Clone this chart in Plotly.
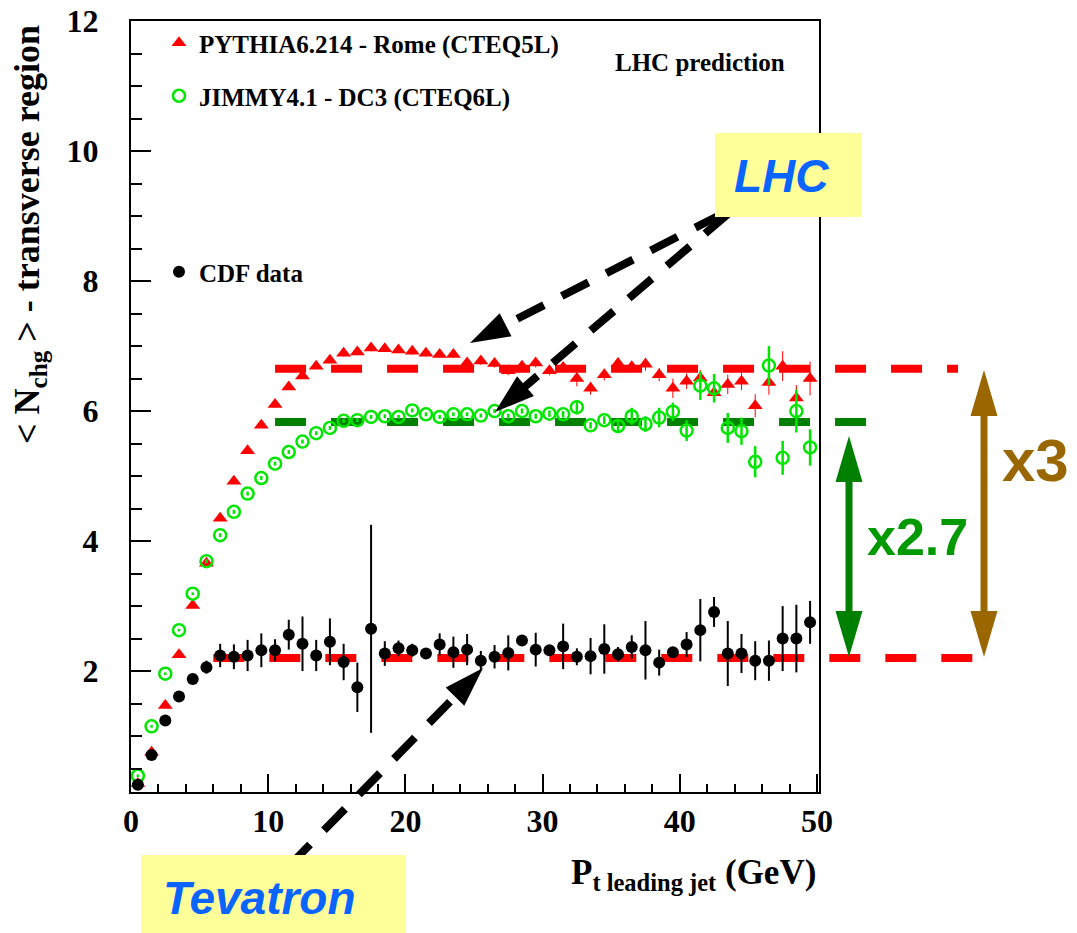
import math
import plotly.graph_objects as go

# ---------------- data ----------------
pt_bins = [0.5, 1.5, 2.5, 3.5, 4.5, 5.5, 6.5, 7.5, 8.5, 9.5,
           10.5, 11.5, 12.5, 13.5, 14.5, 15.5, 16.5, 17.5, 18.5, 19.5,
           20.5, 21.5, 22.5, 23.5, 24.5, 25.5, 26.5, 27.5, 28.5, 29.5,
           30.5, 31.5, 32.5, 33.5, 34.5, 35.5, 36.5, 37.5, 38.5, 39.5,
           40.5, 41.5, 42.5, 43.5, 44.5, 45.5, 46.5, 47.5, 48.5, 49.5]

pythia_y = [0.27, 0.75, 1.47, 2.25, 3.01, 3.66, 4.35, 4.92, 5.39, 5.78,
            6.10, 6.37, 6.54, 6.69, 6.78, 6.89, 6.91, 6.97, 6.96, 6.94,
            6.92, 6.89, 6.87, 6.87, 6.74, 6.77, 6.73, 6.62, 6.69, 6.74,
            6.62, 6.67, 6.50, 6.35, 6.56, 6.73, 6.68, 6.72, 6.56, 6.35,
            6.46, 6.51, 6.28, 6.41, 6.46, 6.08, 6.44, 6.69, 6.20, 6.50]
pythia_err = [0.02, 0.02, 0.02, 0.03, 0.03, 0.03, 0.03, 0.03, 0.03, 0.03,
              0.04, 0.04, 0.04, 0.04, 0.04, 0.05, 0.05, 0.05, 0.05, 0.05,
              0.05, 0.05, 0.05, 0.05, 0.06, 0.06, 0.06, 0.07, 0.07, 0.07,
              0.07, 0.08, 0.12, 0.10, 0.09, 0.09, 0.09, 0.10, 0.10, 0.15,
              0.12, 0.12, 0.13, 0.15, 0.14, 0.18, 0.19, 0.23, 0.20, 0.26]

jimmy_y = [0.39, 1.15, 1.96, 2.63, 3.19, 3.69, 4.09, 4.45, 4.73, 4.97,
           5.19, 5.37, 5.53, 5.66, 5.74, 5.85, 5.86, 5.91, 5.92, 5.91,
           6.01, 5.95, 5.91, 5.95, 5.95, 5.93, 6.00, 5.92, 6.00, 5.92,
           5.96, 5.95, 6.06, 5.78, 5.86, 5.77, 5.92, 5.80, 5.90, 5.99,
           5.70, 6.39, 6.35, 5.74, 5.69, 5.22, 6.70, 5.28, 6.00, 5.44]
jimmy_err = [0.02, 0.02, 0.02, 0.02, 0.02, 0.03, 0.03, 0.03, 0.03, 0.03,
             0.03, 0.03, 0.03, 0.03, 0.03, 0.03, 0.03, 0.03, 0.03, 0.03,
             0.03, 0.03, 0.03, 0.03, 0.03, 0.03, 0.03, 0.04, 0.04, 0.04,
             0.05, 0.05, 0.11, 0.05, 0.06, 0.10, 0.13, 0.12, 0.15, 0.14,
             0.16, 0.22, 0.22, 0.23, 0.21, 0.24, 0.30, 0.26, 0.33, 0.28]

cdf_y = [0.25, 0.71, 1.24, 1.61, 1.88, 2.06, 2.24, 2.22, 2.24, 2.32,
         2.32, 2.56, 2.42, 2.24, 2.45, 2.14, 1.75, 2.65, 2.27, 2.35,
         2.32, 2.27, 2.41, 2.29, 2.33, 2.16, 2.22, 2.28, 2.47, 2.33,
         2.32, 2.38, 2.22, 2.23, 2.34, 2.26, 2.37, 2.32, 2.13, 2.29,
         2.41, 2.63, 2.91, 2.27, 2.27, 2.16, 2.16, 2.50, 2.50, 2.75]
cdf_err = [0.02, 0.03, 0.04, 0.05, 0.06, 0.10, 0.18, 0.19, 0.24, 0.26,
           0.17, 0.23, 0.42, 0.24, 0.36, 0.28, 0.38, 1.60, 0.19, 0.12,
           0.10, 0.08, 0.17, 0.24, 0.24, 0.15, 0.18, 0.27, 0.08, 0.26,
           0.08, 0.35, 0.13, 0.28, 0.38, 0.11, 0.18, 0.45, 0.20, 0.08,
           0.19, 0.48, 0.23, 0.50, 0.30, 0.30, 0.31, 0.50, 0.52, 0.33]

# plateau levels (y) and where their dashed lines start (x, GeV)
levels = [6.65, 5.83, 2.20]
level_start = [10.5, 10.5, 6.0]

x_ticks = [0, 10, 20, 30, 40, 50]
y_ticks = [2, 4, 6, 8, 10, 12]

series_names = ["PYTHIA6.214 - Rome (CTEQ5L)", "JIMMY4.1 - DC3 (CTEQ6L)", "CDF data"]

# ---------------- layout geometry (reference pixel frame) ----------------
FW, FH = 1077, 933
OFF = 8                      # default page body margin
L, R, T, B = 131, 819, 21, 792
PW, PH = R - L, B - T
XR = [0, 50.15]
YR = [0.14, 12]

def px_x(px):
    return (px - L) / PW

def px_y(py):
    return (B - py) / PH

def dx(v):
    return (v - XR[0]) / (XR[1] - XR[0])

def dy(v):
    return (v - YR[0]) / (YR[1] - YR[0])

serif = "Liberation Serif"
sans = "Liberation Sans"

RED = "#ff0000"
GREEN_PT = "rgb(0,230,0)"
DKGREEN = "#008000"
BROWN = "#996600"
BLUE = "#0a64ff"
YELLOW = "#ffff99"

fig = go.Figure()

fig.add_trace(go.Scatter(
    x=pt_bins, y=pythia_y, mode="markers", name=series_names[0],
    marker=dict(symbol="triangle-up", size=13, color=RED),
    error_y=dict(type="data", array=pythia_err, color=RED, thickness=1, width=0),
    legend="legend"))
fig.add_trace(go.Scatter(
    x=pt_bins, y=jimmy_y, mode="markers", name=series_names[1],
    marker=dict(symbol="circle-open", size=12, color=GREEN_PT, line=dict(width=2.5, color=GREEN_PT)),
    error_y=dict(type="data", array=jimmy_err, color=GREEN_PT, thickness=2.5, width=0),
    legend="legend2"))
fig.add_trace(go.Scatter(
    x=pt_bins, y=cdf_y, mode="markers", name=series_names[2],
    marker=dict(symbol="circle", size=12, color="black"),
    error_y=dict(type="data", array=cdf_err, color="black", thickness=2, width=0),
    legend="legend3"))

shapes = []
# plateau dashed lines (extend outside the frame)
level_colors = [RED, DKGREEN, RED]
level_end_px = [958, 867, 974]
for lv, xs, col, xe in zip(levels, level_start, level_colors, level_end_px):
    shapes.append(dict(type="line", xref="paper", yref="paper",
                       x0=dx(xs), x1=px_x(xe), y0=dy(lv), y1=dy(lv),
                       line=dict(color=col, width=8, dash="31px,25px"), layer="below"))

def head(tipx, tipy, fromx, fromy, length, width, color):
    vx, vy = tipx - fromx, tipy - fromy
    n = math.hypot(vx, vy)
    ux, uy = vx / n, vy / n
    bx, by = tipx - ux * length, tipy - uy * length
    nx, ny = -uy, ux
    p1 = (bx + nx * width / 2, by + ny * width / 2)
    p2 = (bx - nx * width / 2, by - ny * width / 2)
    path = "M {} {} L {} {} L {} {} Z".format(
        px_x(tipx), px_y(tipy), px_x(p1[0]), px_y(p1[1]), px_x(p2[0]), px_y(p2[1]))
    return dict(type="path", xref="paper", yref="paper", path=path,
                fillcolor=color, line=dict(width=0), layer="above"), (bx, by)

# black dashed arrows (start px, tip px)
arrows = [((722, 214), (470, 343)), ((728, 214), (495, 412)), ((289, 866), (483, 668))]
for (sx, sy), (tx, ty) in arrows:
    h, (bx, by) = head(tx, ty, sx, sy, 40, 26, "black")
    shapes.append(dict(type="line", xref="paper", yref="paper",
                       x0=px_x(sx), y0=px_y(sy), x1=px_x(bx + (tx - bx) * 0.1), y1=px_y(by + (ty - by) * 0.1),
                       line=dict(color="black", width=8, dash="30px,20px"), layer="above"))
    shapes.append(h)

# double headed arrows
for xpx, ytop, ybot, col in [(849, 436, 657, DKGREEN), (984, 370, 657, BROWN)]:
    shapes.append(dict(type="line", xref="paper", yref="paper",
                       x0=px_x(xpx), x1=px_x(xpx), y0=px_y(ytop + 40), y1=px_y(ybot - 40),
                       line=dict(color=col, width=7), layer="above"))
    shapes.append(head(xpx, ytop, xpx, ybot, 46, 27, col)[0])
    shapes.append(head(xpx, ybot, xpx, ytop, 46, 27, col)[0])

# yellow label boxes
shapes.append(dict(type="rect", xref="paper", yref="paper",
                   x0=px_x(715), x1=px_x(862), y0=px_y(133), y1=px_y(217),
                   fillcolor=YELLOW, line=dict(width=0), layer="above"))
shapes.append(dict(type="rect", xref="paper", yref="paper",
                   x0=px_x(141), x1=px_x(406), y0=px_y(855), y1=px_y(940),
                   fillcolor=YELLOW, line=dict(width=0), layer="above"))

annotations = [
    dict(text="LHC", x=px_x(781), y=px_y(176), xref="paper", yref="paper",
         showarrow=False, font=dict(family=sans, size=46, color=BLUE, weight="bold", style="italic"),
         xanchor="center", yanchor="middle"),
    dict(text="Tevatron", x=px_x(259), y=px_y(898), xref="paper", yref="paper",
         showarrow=False, font=dict(family=sans, size=46, color=BLUE, weight="bold", style="italic"),
         xanchor="center", yanchor="middle"),
    dict(text="x2.7", x=px_x(917), y=px_y(537), xref="paper", yref="paper",
         showarrow=False, font=dict(family=sans, size=52, color="#009900", weight="bold"),
         xanchor="center", yanchor="middle"),
    dict(text="x3", x=px_x(1035), y=px_y(460), xref="paper", yref="paper",
         showarrow=False, font=dict(family=sans, size=60, color=BROWN, weight="bold"),
         xanchor="center", yanchor="middle"),
    dict(text="LHC prediction", x=px_x(700), y=px_y(62), xref="paper", yref="paper",
         showarrow=False, font=dict(family=serif, size=25, color="black", weight="bold"),
         xanchor="center", yanchor="middle"),
    dict(text="P<sub>t leading jet</sub> (GeV)", x=px_x(818), y=px_y(874), xref="paper", yref="paper",
         showarrow=False, font=dict(family=serif, size=35, color="black", weight="bold"),
         xanchor="right", yanchor="middle"),
    dict(text="< N<sub>chg</sub> > - transverse region", x=px_x(29), y=px_y(235),
         xref="paper", yref="paper", textangle=-90,
         showarrow=False, font=dict(family=serif, size=36, color="black", weight="bold"),
         xanchor="center", yanchor="middle"),
]

legend_font = dict(family=serif, size=25, color="black", weight="bold")
def leg(ypx):
    return dict(x=px_x(159), y=px_y(ypx), xanchor="left", yanchor="middle",
                bgcolor="rgba(0,0,0,0)", borderwidth=0, font=legend_font)

fig.update_layout(
    width=FW - OFF, height=FH - OFF, template="none",
    paper_bgcolor="white", plot_bgcolor="white",
    margin=dict(l=L - OFF, r=FW - R, t=T - OFF, b=FH - B, pad=0),
    showlegend=True,
    legend=leg(43), legend2=leg(96), legend3=leg(272),
    shapes=shapes, annotations=annotations,
    xaxis=dict(range=XR, tickvals=x_ticks, ticktext=[str(v) for v in x_ticks],
               ticks="inside", ticklen=18, tickwidth=2, tickcolor="black",
               minor=dict(ticks="inside", dtick=2, tick0=0, ticklen=8, tickwidth=2, tickcolor="black"),
               showline=True, linecolor="black", linewidth=2, mirror=True,
               showgrid=False, zeroline=False, ticklabelstandoff=0, ticklabeloverflow="allow",
               tickfont=dict(family=serif, size=32, color="black", weight="bold")),
    yaxis=dict(range=YR, tickvals=y_ticks, ticktext=[str(v) for v in y_ticks],
               ticks="inside", ticklen=20, tickwidth=2, tickcolor="black",
               minor=dict(ticks="inside", dtick=0.5, tick0=0, ticklen=11, tickwidth=2, tickcolor="black"),
               showline=True, linecolor="black", linewidth=2, mirror=True,
               showgrid=False, zeroline=False, ticklabelstandoff=24, ticklabeloverflow="allow",
               tickfont=dict(family=serif, size=32, color="black", weight="bold")),
)

fig.write_html("out.html")
